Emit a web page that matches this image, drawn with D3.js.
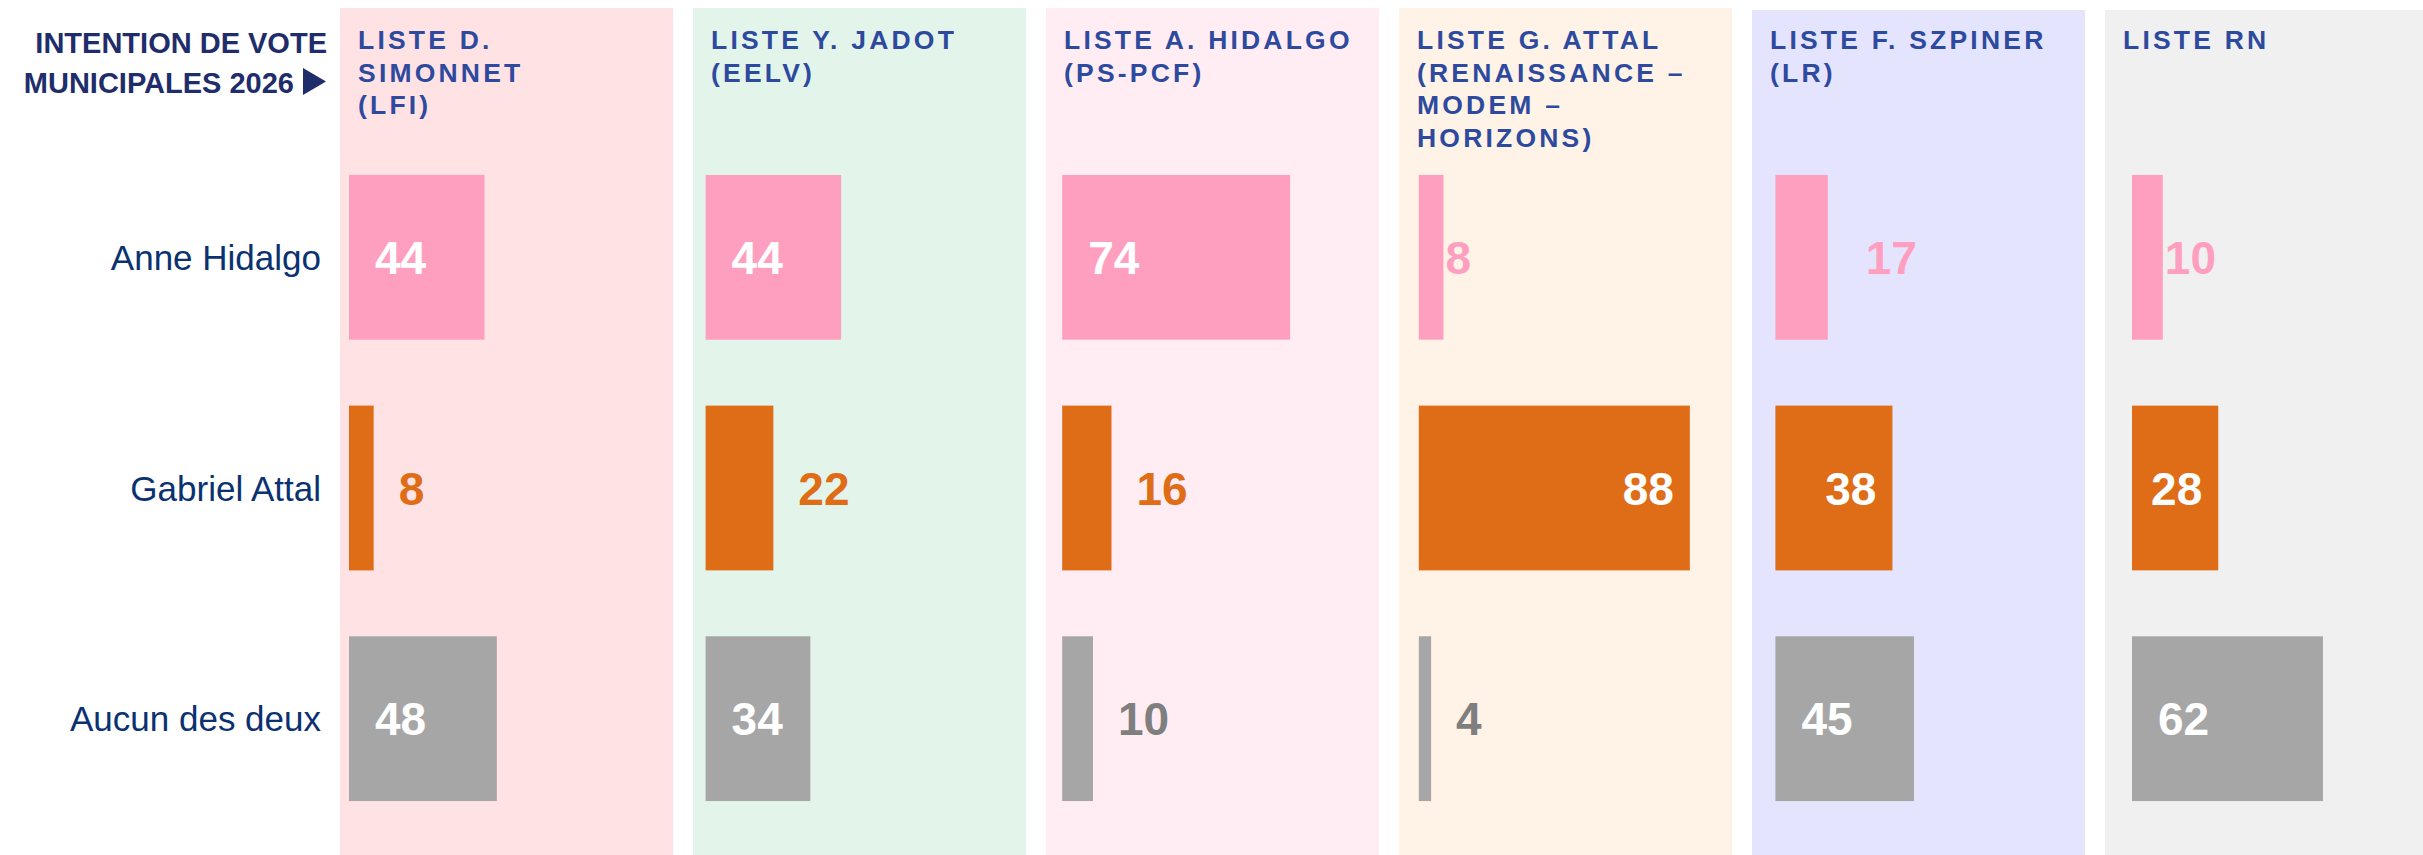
<!DOCTYPE html>
<html>
<head>
<meta charset="utf-8">
<script src="https://cdn.jsdelivr.net/npm/d3@7"></script>
<style>
  body { margin: 0; background: #ffffff; }
  svg { display: block; font-family: "Liberation Sans", Arial, sans-serif; }
</style>
</head>
<body>
<div id="chart"></div>
<script>
// data
var lists = ["LFI", "EELV", "PS-PCF", "Renaissance", "LR", "RN"];
var listTitles = [
  ["LISTE D.", "SIMONNET", "(LFI)"],
  ["LISTE Y. JADOT", "(EELV)"],
  ["LISTE A. HIDALGO", "(PS-PCF)"],
  ["LISTE G. ATTAL", "(RENAISSANCE \u2013", "MODEM \u2013", "HORIZONS)"],
  ["LISTE F. SZPINER", "(LR)"],
  ["LISTE RN"]
];
var choices = ["Anne Hidalgo", "Gabriel Attal", "Aucun des deux"];
var hidalgo = [44, 44, 74, 8, 17, 10];
var attal = [8, 22, 16, 88, 38, 28];
var aucun = [48, 34, 10, 4, 45, 62];

var panelColours = ["#fee2e4", "#e3f5ea", "#ffedf3", "#fef3e6", "#e4e4fe", "#f0f0f0"];
var barColours = ["#ff9fc0", "#df6c16", "#a6a6a6"];
var outColours = ["#ff9fc0", "#df6c16", "#7f7f7f"];

var width = 2423, height = 855;

var svg = d3.select("#chart")
  .append("svg")
  .attr("width", width)
  .attr("height", height);

var series = [hidalgo, attal, aucun];
var cells = [];
series.forEach(function (vals, r) {
  vals.forEach(function (v, c) {
    cells.push({ row: choices[r], r: r, list: lists[c], value: v });
  });
});

// scales
var xPanel = d3.scaleBand()
  .domain(lists)
  .range([340, 2438])
  .paddingInner(20 / 353);

var xBase = d3.scaleBand()
  .domain(lists)
  .range([349, 349 + 6 * 356.6]);

var xVal = d3.scaleLinear()
  .domain([0, 100])
  .range([0, 308]);

var y = d3.scaleBand()
  .domain(choices)
  .range([142, 834])
  .paddingInner(0.2857)
  .paddingOuter(0.1428);

// panel backgrounds
svg.selectAll("rect.panel")
  .data(lists)
  .enter()
  .append("rect")
  .attr("class", "panel")
  .attr("x", d => xPanel(d))
  .attr("y", (d, i) => i < 4 ? 8 : 10)
  .attr("width", xPanel.bandwidth())
  .attr("height", height)
  .style("fill", (d, i) => panelColours[i]);

// panel headers
var headers = svg.selectAll("text.header")
  .data(lists)
  .enter()
  .append("text")
  .attr("class", "header")
  .attr("x", d => xPanel(d) + 18)
  .attr("y", 49)
  .style("font-size", "26.5px")
  .style("font-weight", "bold")
  .style("letter-spacing", "3.2px")
  .style("fill", "#2e4a9e");

headers.selectAll("tspan")
  .data((d, i) => listTitles[i])
  .enter()
  .append("tspan")
  .attr("x", function () { return d3.select(this.parentNode).attr("x"); })
  .attr("dy", (d, i) => i === 0 ? 0 : 32.5)
  .text(d => d);

// title
var title = svg.append("g").style("fill", "#1f2d6b");
title.append("text")
  .attr("x", 327).attr("y", 53)
  .style("text-anchor", "end")
  .style("font-size", "29px")
  .style("font-weight", "bold")
  .text("INTENTION DE VOTE");
title.append("text")
  .attr("x", 294).attr("y", 93)
  .style("text-anchor", "end")
  .style("font-size", "29px")
  .style("font-weight", "bold")
  .text("MUNICIPALES 2026");
title.append("path")
  .attr("d", "M303,68 L303,95 L326,81.5 Z");

// row labels
svg.selectAll("text.rowLabel")
  .data(choices)
  .enter()
  .append("text")
  .attr("class", "rowLabel")
  .attr("x", 321)
  .attr("y", d => y(d) + y.bandwidth() / 2)
  .attr("dy", "0.36em")
  .style("text-anchor", "end")
  .style("font-size", "35px")
  .style("fill", "#0b3270")
  .text(d => d);

// bars
svg.selectAll("rect.bar")
  .data(cells)
  .enter()
  .append("rect")
  .attr("class", "bar")
  .attr("x", d => xBase(d.list))
  .attr("y", d => y(d.row))
  .attr("width", d => xVal(d.value))
  .attr("height", y.bandwidth())
  .style("fill", d => barColours[d.r]);

// value labels: white inside the bar when it fits, otherwise after the bar in its colour
var textW = 52;
function fits(d) { return xVal(d.value) > textW + 30; }
function outsideGap(d) {
  if (d.r === 0) return d.value > 12 ? 38 : 2;
  return 25;
}

svg.selectAll("text.valueLabel")
  .data(cells)
  .enter()
  .append("text")
  .attr("class", "valueLabel")
  .attr("x", function (d) {
    var base = xBase(d.list), end = base + xVal(d.value);
    if (!fits(d)) return end + outsideGap(d);
    return d.r === 1 ? end - 16 : base + 26;
  })
  .attr("y", d => y(d.row) + y.bandwidth() / 2)
  .attr("dy", "0.36em")
  .style("text-anchor", d => (fits(d) && d.r === 1) ? "end" : "start")
  .style("font-size", "46px")
  .style("font-weight", "bold")
  .style("fill", d => fits(d) ? "#ffffff" : outColours[d.r])
  .text(d => d.value);
</script>
</body>
</html>
